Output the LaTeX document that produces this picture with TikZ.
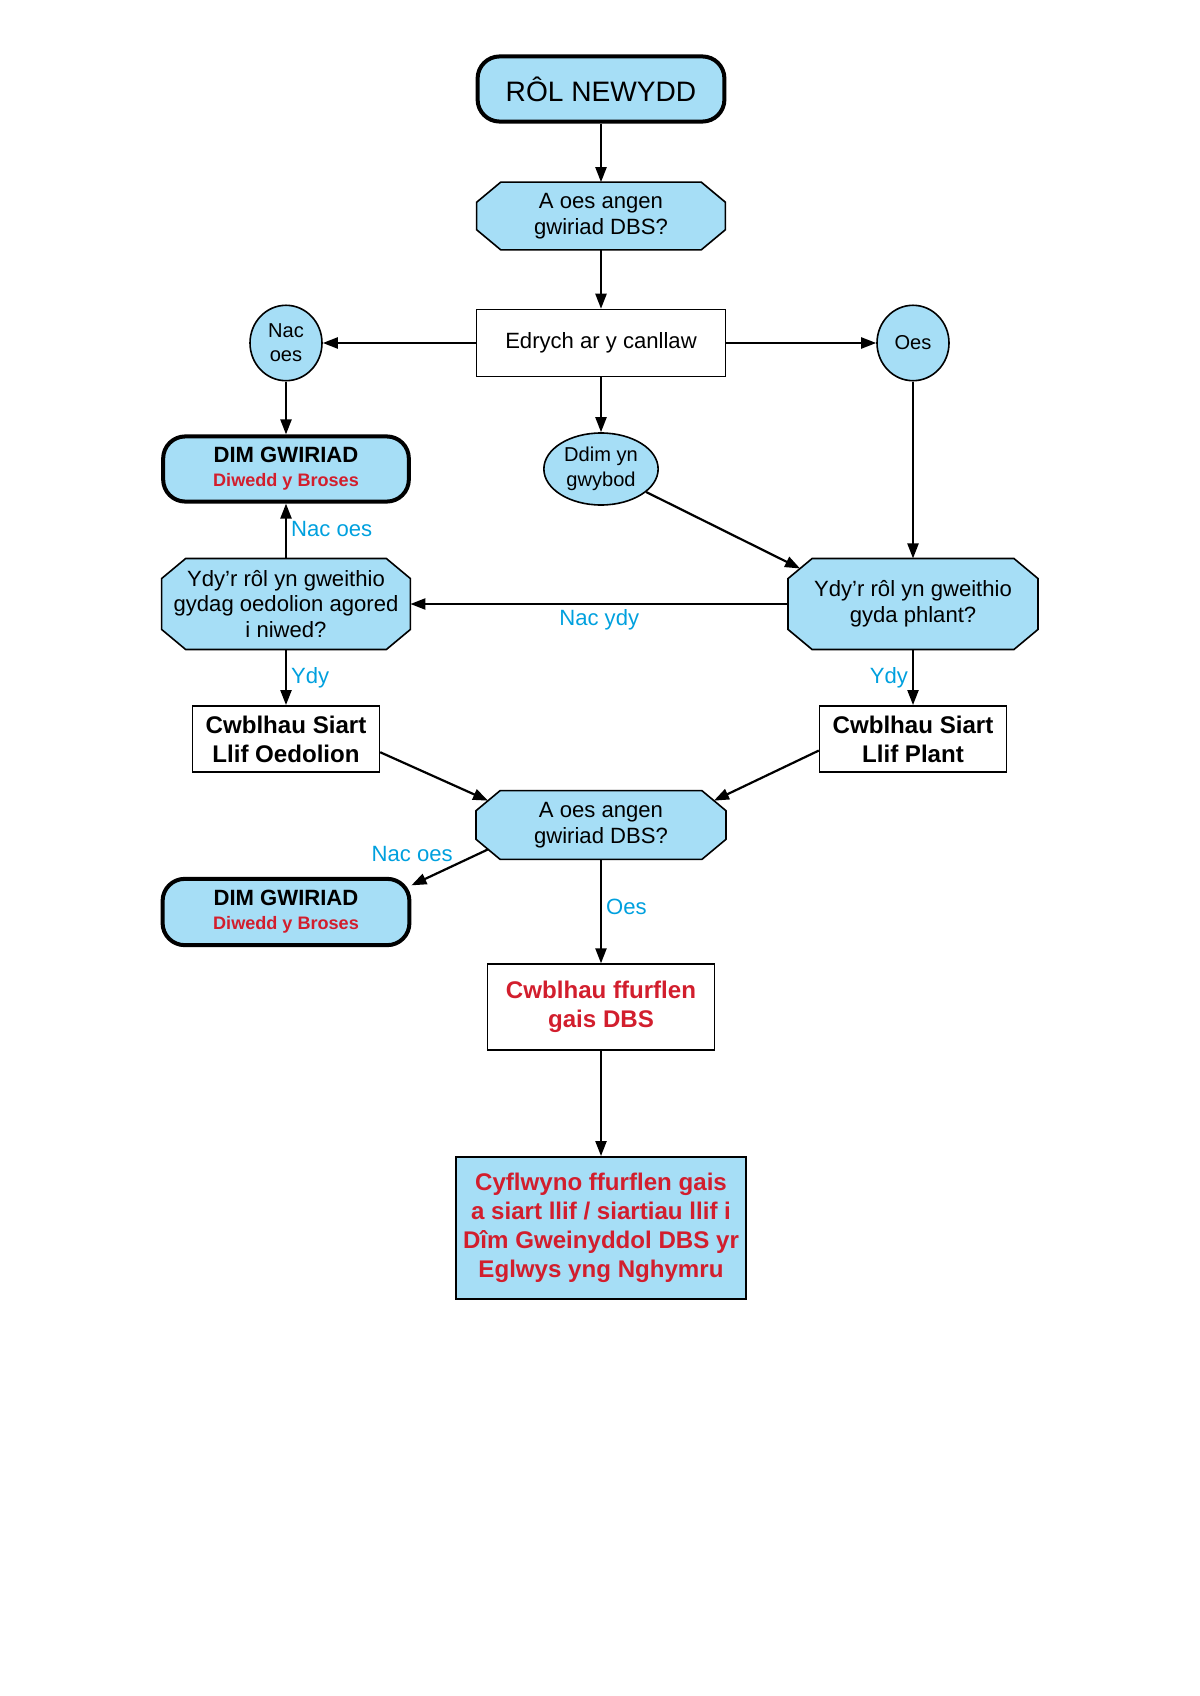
\documentclass[tikz,border=0pt]{standalone}
\usepackage{fontspec}
\setmainfont{Liberation Sans}
\usetikzlibrary{shapes.geometric,arrows.meta,backgrounds}
\definecolor{boxblue}{RGB}{166,222,246}
\definecolor{endred}{RGB}{210,30,45}
\definecolor{lblblue}{RGB}{0,160,222}
\tikzset{
  terminal/.style={draw, line width=2pt, fill=boxblue, rounded corners=11pt, align=center, inner sep=0pt},
  decision/.style={rectangle, align=center, inner sep=0pt, font=\fontsize{11}{12.9}\selectfont},
  octframe/.style={draw, line width=0.8pt, fill=boxblue, line join=miter},
  stepbox/.style={draw, line width=0.8pt, rectangle, align=center, inner sep=0pt},
  answer/.style={draw, line width=0.8pt, fill=boxblue, ellipse, align=center, inner sep=0pt, font=\fontsize{10}{11.8}\selectfont},
  lbl/.style={text=lblblue, font=\fontsize{11}{13}\selectfont, inner sep=2pt},
  link/.style={line width=1.1pt, -{Triangle[length=7.5pt,width=5.5pt]}}
}
\begin{document}
\begin{tikzpicture}[x=0.0175cm, y=-0.0175cm]
	\useasboundingbox (0,0) rectangle (1200,1696);
	% top of the chart
	\node[terminal, minimum width=4.32cm, minimum height=1.14cm, font=\fontsize{14}{16}\selectfont] (rol) at (601,89) {RÔL NEWYDD};
	\node[decision, minimum width=4.34cm, minimum height=1.17cm] (gwiriad1) at (601,216) {A oes angen\\gwiriad DBS?};
	\node[stepbox, minimum width=4.36cm, minimum height=1.17cm, font=\fontsize{11}{13}\selectfont] (canllaw) at (601,343) {Edrych ar y canllaw};
	\node[answer, minimum width=1.26cm, minimum height=1.32cm] (nacoes) at (286,343) {Nac\\oes};
	\node[answer, minimum width=1.26cm, minimum height=1.32cm] (oes) at (913,343) {Oes};
	\node[answer, minimum width=2.0cm, minimum height=1.26cm, font=\fontsize{10}{12.3}\selectfont] (ddim) at (601,469) {Ddim yn\\gwybod};
	% middle
	\node[terminal, minimum width=4.3cm, minimum height=1.14cm] (dim1) at (286,469) {{\fontsize{11}{12}\selectfont\bfseries DIM GWIRIAD}\\{\fontsize{9}{11}\selectfont\bfseries\color{endred}Diwedd y Broses}};
	\node[decision, minimum width=4.34cm, minimum height=1.58cm] (oedolion) at (286,604) {Ydy’r rôl yn gweithio\\gydag oedolion agored\\i niwed?};
	\node[decision, minimum width=4.36cm, minimum height=1.58cm] (plant) at (913,604) {Ydy’r rôl yn gweithio\\gyda phlant?};
	\node[stepbox, minimum width=3.27cm, minimum height=1.16cm, font=\fontsize{12}{14.5}\selectfont\bfseries] (siartO) at (286,739) {Cwblhau Siart\\Llif Oedolion};
	\node[stepbox, minimum width=3.27cm, minimum height=1.16cm, font=\fontsize{12}{14.5}\selectfont\bfseries] (siartP) at (913,739) {Cwblhau Siart\\Llif Plant};
	% bottom
	\node[decision, minimum width=4.36cm, minimum height=1.19cm] (gwiriad2) at (601,825) {A oes angen\\gwiriad DBS?};
	\node[terminal, minimum width=4.32cm, minimum height=1.16cm] (dim2) at (286,912) {{\fontsize{11}{12}\selectfont\bfseries DIM GWIRIAD}\\{\fontsize{9}{11}\selectfont\bfseries\color{endred}Diwedd y Broses}};
	\node[stepbox, minimum width=3.97cm, minimum height=1.5cm, text=endred, font=\fontsize{12}{14.5}\selectfont\bfseries] (ffurflen) at (601,1007) {Cwblhau ffurflen\\gais DBS};
	\node[stepbox, fill=boxblue, minimum width=5.08cm, minimum height=2.49cm, text=endred, font=\fontsize{12}{14.5}\selectfont\bfseries] (cyflwyno) at (601,1228) {Cyflwyno ffurflen gais\\a siart llif / siartiau llif i\\Dîm Gweinyddol DBS yr\\Eglwys yng Nghymru};
	% octagon frames behind the question nodes
	\begin{scope}[on background layer]
		\foreach \q in {gwiriad1,oedolion,plant,gwiriad2}
			\draw[octframe] ([xshift=12pt]\q.north west) -- ([xshift=-12pt]\q.north east) -- ([yshift=-10pt]\q.north east) -- ([yshift=10pt]\q.south east) -- ([xshift=-12pt]\q.south east) -- ([xshift=12pt]\q.south west) -- ([yshift=10pt]\q.south west) -- ([yshift=-10pt]\q.north west) -- cycle;
	\end{scope}
	% connectors
	\draw[link] (rol) -- (gwiriad1);
	\draw[link] (gwiriad1) -- (canllaw);
	\draw[link] (canllaw) -- (nacoes);
	\draw[link] (canllaw) -- (oes);
	\draw[link] (canllaw) -- (ddim);
	\draw[link] (nacoes) -- (dim1);
	\draw[link] (ddim.-27) -- ([shift={(6pt,-5pt)}]plant.north west);
	\draw[link] (oes) -- (plant);
	\draw[link] (plant) -- node[lbl, below] {Nac ydy} (oedolion);
	\draw[link] (oedolion) -- node[lbl, right, pos=0.53] {Nac oes} (dim1);
	\draw[link] (oedolion) -- node[lbl, right] {Ydy} (siartO);
	\draw[link] (plant) -- node[lbl, left] {Ydy} (siartP);
	\draw[link] (siartO.-8) -- ([shift={(6pt,-5pt)}]gwiriad2.north west);
	\draw[link] (siartP.187) -- ([shift={(-6pt,-5pt)}]gwiriad2.north east);
	\draw[link] ([shift={(6pt,5pt)}]gwiriad2.south west) -- node[lbl, above left, inner sep=1pt, pos=0.42] {Nac oes} (dim2.12);
	\draw[link] (gwiriad2) -- node[lbl, right, pos=0.46] {Oes} (ffurflen);
	\draw[link] (ffurflen) -- (cyflwyno);
\end{tikzpicture}
\end{document}
